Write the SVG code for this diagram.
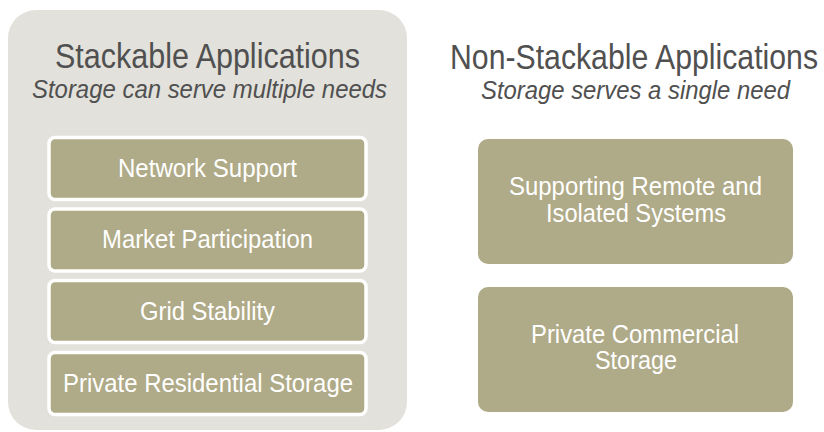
<svg xmlns="http://www.w3.org/2000/svg" width="824" height="432" viewBox="0 0 824 432">
  <style>
    .panel { fill: #e2e1db; }
    .box { fill: #afaa87; }
    .stacked { stroke: #ffffff; stroke-width: 3.5; }
    .title { font-family: "Liberation Sans", Arial, sans-serif; font-size: 35px; fill: #505050; text-anchor: middle; }
    .sub { font-family: "Liberation Sans", Arial, sans-serif; font-size: 26px; font-style: italic; fill: #505050; text-anchor: middle; }
    .label { font-family: "Liberation Sans", Arial, sans-serif; font-size: 26px; fill: #ffffff; text-anchor: middle; }
  </style>
  <rect width="824" height="432" fill="#ffffff"/>

  <!-- Stackable group -->
  <g id="stackable">
    <rect class="panel" x="8" y="10" width="399" height="420" rx="28"/>
    <text class="title" x="207.5" y="68" textLength="305" lengthAdjust="spacingAndGlyphs">Stackable Applications</text>
    <text class="sub" x="209.5" y="97.5" textLength="355" lengthAdjust="spacingAndGlyphs">Storage can serve multiple needs</text>
  </g>

  <g id="network-support">
    <rect class="box stacked" x="49" y="137.5" width="317" height="62" rx="6"/>
    <text class="label" x="207.5" y="177" textLength="179" lengthAdjust="spacingAndGlyphs">Network Support</text>
  </g>
  <g id="market-participation">
    <rect class="box stacked" x="49" y="209" width="317" height="62" rx="6"/>
    <text class="label" x="207.5" y="248" textLength="211" lengthAdjust="spacingAndGlyphs">Market Participation</text>
  </g>
  <g id="grid-stability">
    <rect class="box stacked" x="49" y="280.5" width="317" height="62" rx="6"/>
    <text class="label" x="207.5" y="320" textLength="135" lengthAdjust="spacingAndGlyphs">Grid Stability</text>
  </g>
  <g id="private-residential">
    <rect class="box stacked" x="49" y="352.5" width="317" height="62" rx="6"/>
    <text class="label" x="208" y="392" textLength="290" lengthAdjust="spacingAndGlyphs">Private Residential Storage</text>
  </g>

  <!-- Non-stackable group -->
  <g id="non-stackable">
    <text class="title" x="634" y="69" textLength="368" lengthAdjust="spacingAndGlyphs">Non-Stackable Applications</text>
    <text class="sub" x="635.5" y="99" textLength="309" lengthAdjust="spacingAndGlyphs">Storage serves a single need</text>
  </g>

  <g id="remote-isolated">
    <rect class="box" x="478" y="139" width="315" height="125" rx="10"/>
    <text class="label" x="635.5" y="195" textLength="253" lengthAdjust="spacingAndGlyphs">Supporting Remote and</text>
    <text class="label" x="636" y="222" textLength="180" lengthAdjust="spacingAndGlyphs">Isolated Systems</text>
  </g>
  <g id="private-commercial">
    <rect class="box" x="478" y="287" width="315" height="125" rx="10"/>
    <text class="label" x="635" y="343" textLength="208" lengthAdjust="spacingAndGlyphs">Private Commercial</text>
    <text class="label" x="636" y="369" textLength="82" lengthAdjust="spacingAndGlyphs">Storage</text>
  </g>

  <!-- no connectors in this diagram -->
  <g id="connectors"/>
</svg>
